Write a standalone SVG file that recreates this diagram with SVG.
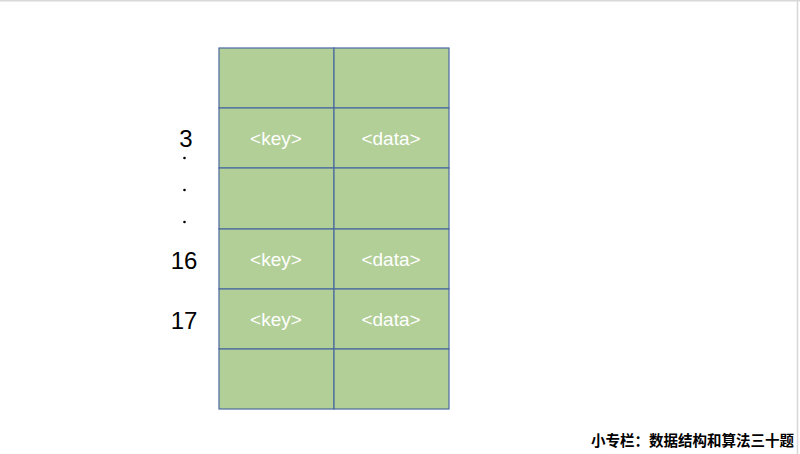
<svg xmlns="http://www.w3.org/2000/svg" width="800" height="454" viewBox="0 0 800 454">
<style>
.c{fill:#b2cf97;stroke:#4a69a0;stroke-width:1.2}
.t{font-family:"Liberation Sans",Arial,sans-serif;font-size:19px;fill:#ffffff;text-anchor:middle}
.n{font-family:"Liberation Sans",Arial,sans-serif;font-size:24px;fill:#000;text-anchor:middle}
</style>
<rect x="0" y="0" width="800" height="454" fill="#ffffff"/>
<line x1="0" y1="0.75" x2="800" y2="0.75" stroke="#d8d8d8" stroke-width="1.5"/>
<line x1="797.5" y1="0" x2="797.5" y2="454" stroke="#d8d8d8" stroke-width="1.5"/>
<g id="table">
<rect class="c" x="219" y="48" width="115" height="60"/>
<rect class="c" x="334" y="48" width="115" height="60"/>
<rect class="c" x="219" y="108" width="115" height="60"/>
<rect class="c" x="334" y="108" width="115" height="60"/>
<rect class="c" x="219" y="168" width="115" height="61"/>
<rect class="c" x="334" y="168" width="115" height="61"/>
<rect class="c" x="219" y="229" width="115" height="60"/>
<rect class="c" x="334" y="229" width="115" height="60"/>
<rect class="c" x="219" y="289" width="115" height="60"/>
<rect class="c" x="334" y="289" width="115" height="60"/>
<rect class="c" x="219" y="349" width="115" height="60"/>
<rect class="c" x="334" y="349" width="115" height="60"/>
</g>
<g id="labels">
<text class="t" x="276" y="145">&lt;key&gt;</text>
<text class="t" x="391" y="145">&lt;data&gt;</text>
<text class="t" x="276" y="266">&lt;key&gt;</text>
<text class="t" x="391" y="266">&lt;data&gt;</text>
<text class="t" x="276" y="326">&lt;key&gt;</text>
<text class="t" x="391" y="326">&lt;data&gt;</text>
</g>
<g id="indices">
<text class="n" x="186" y="147">3</text>
<circle cx="184.5" cy="158" r="1.3" fill="#000"/>
<circle cx="184.5" cy="190" r="1.3" fill="#000"/>
<circle cx="184.5" cy="222" r="1.3" fill="#000"/>
<text class="n" x="184" y="269">16</text>
<text class="n" x="184" y="329">17</text>
</g>
<text x="794" y="446" font-family="'Noto Sans CJK SC',sans-serif" font-size="14.5" font-weight="bold" text-anchor="end" fill="#000">小专栏：数据结构和算法三十题</text>
</svg>
